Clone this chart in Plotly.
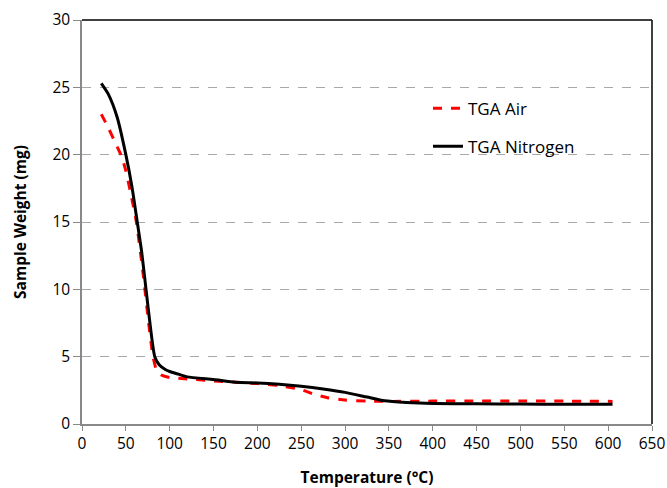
import plotly.graph_objects as go

air_T = [22, 30, 40, 45, 50, 55, 62, 70, 76, 81, 85, 90, 100, 110, 130, 150, 175, 200, 225, 250, 265, 280, 300, 325, 350, 400, 450, 500, 550, 605]
air_W = [23.0, 22.0, 20.6, 19.9, 18.8, 17.3, 15.0, 11.0, 7.5, 5.0, 4.0, 3.65, 3.45, 3.4, 3.3, 3.2, 3.1, 3.0, 2.85, 2.55, 2.2, 1.95, 1.78, 1.7, 1.68, 1.7, 1.7, 1.7, 1.7, 1.68]

n2_T = [22, 30, 40, 50, 57, 63, 68, 73, 78, 83, 88, 95, 100, 110, 120, 150, 175, 200, 225, 250, 275, 300, 325, 345, 370, 400, 450, 500, 550, 605]
n2_W = [25.3, 24.5, 22.8, 20.0, 17.6, 15.0, 12.8, 10.0, 7.2, 5.0, 4.4, 4.05, 3.9, 3.7, 3.5, 3.3, 3.1, 3.05, 2.95, 2.8, 2.6, 2.35, 2.0, 1.72, 1.6, 1.53, 1.5, 1.48, 1.47, 1.46]

x_ticks = list(range(0, 651, 50))
y_ticks = list(range(0, 31, 5))

fig = go.Figure()
fig.add_trace(go.Scatter(x=air_T, y=air_W, mode="lines", name="TGA Air",
                         line=dict(color="#ff0000", width=3, dash="dash", shape="spline", smoothing=0.6),
                         legendgroup="a"))
fig.add_trace(go.Scatter(x=n2_T, y=n2_W, mode="lines", name="TGA Nitrogen",
                         line=dict(color="#000000", width=3, shape="spline", smoothing=0.6),
                         legendgroup="b"))

font = "Open Sans, Liberation Sans, sans-serif"
fig.update_layout(
    width=667, height=488,
    margin=dict(l=82, r=15, t=20, b=64),
    plot_bgcolor="white", paper_bgcolor="white",
    font=dict(family=font, size=16, color="black"),
    legend=dict(x=0.607, y=0.825, xanchor="left", yanchor="top",
                traceorder="grouped", tracegroupgap=13,
                font=dict(size=17), bgcolor="rgba(0,0,0,0)"),
    xaxis=dict(range=[0, 650], tickvals=x_ticks, showgrid=False, automargin=False,
               showline=True, linecolor="#898989", linewidth=1.5,
               ticks="outside", tickcolor="#898989", ticklen=5,
               zeroline=False, tickfont=dict(size=15.5),
               title=dict(text="<b>Temperature (°C)</b>", font=dict(size=15.5), standoff=20)),
    yaxis=dict(range=[0, 30], tickvals=y_ticks, showgrid=True, automargin=False,
               gridcolor="#a8a8a8", griddash="dash", gridwidth=1,
               showline=True, linecolor="#898989", linewidth=1.5,
               ticks="outside", tickcolor="#898989", ticklen=7,
               zeroline=False, tickfont=dict(size=15.5),
               title=dict(text="<b>Sample Weight (mg)</b>", font=dict(size=15.5), standoff=22)),
    shapes=[
        dict(type="line", xref="paper", yref="paper", x0=0, x1=1, y0=1, y1=1,
             line=dict(color="black", width=1.5)),
        dict(type="line", xref="paper", yref="paper", x0=1, x1=1, y0=0, y1=1,
             line=dict(color="black", width=1.5)),
    ],
)

fig.write_html("out.html")
